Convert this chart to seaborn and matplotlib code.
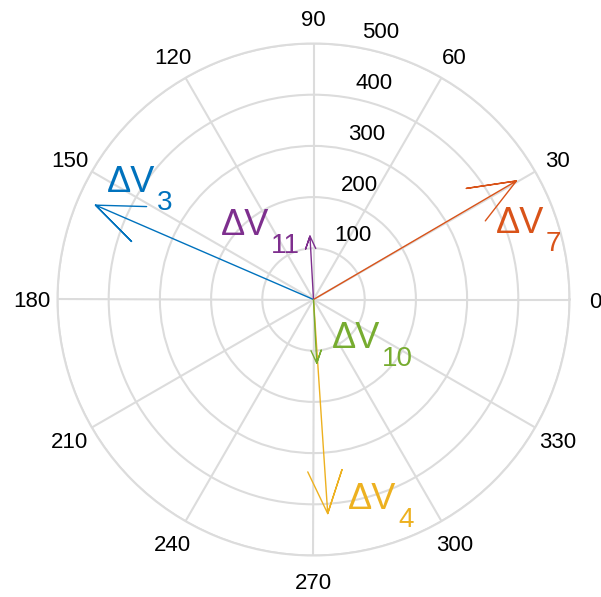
import numpy as np
import pandas as pd
import matplotlib
matplotlib.use("Agg")
import matplotlib.pyplot as plt
import seaborn as sns

# Velocity-change vectors (magnitude, direction in degrees)
names = ["3", "7", "4", "11", "10"]
magnitudes = [464, 459, 419, 124, 124.5]
angles_deg = [156.6, 30.3, 273.8, 93.2, 272.9]
colors = ["#0072BD", "#D95319", "#EDB120", "#7E2F8E", "#77AC30"]

# Where each ΔV label sits (direction in degrees, radius)
label_theta = [152.5, 20.1, 279.4, 145.2, 290.5]
label_r = [455, 379.5, 415.4, 220.7, 101.7]

ring_values = [100, 200, 300, 400, 500]
theta_ticks = list(range(0, 360, 30))
theta_labels = [str(t) for t in theta_ticks]

sns.set_style("white")
plt.rcParams["font.family"] = ["Liberation Sans", "DejaVu Sans"]
plt.rcParams["text.color"] = "black"
plt.rcParams["xtick.color"] = "black"
plt.rcParams["ytick.color"] = "black"

# compass arrow: shaft to the tip plus two barbs at 0.8 with +/-0.08 spread
shape = np.array([0, 1, 0.8 + 0.08j, 1, 0.8 - 0.08j])

rows = []
for name, m, a in zip(names, magnitudes, angles_deg):
    z = m * np.exp(1j * np.deg2rad(a))
    pts = shape * z
    th = np.angle(pts)
    th[0] = np.angle(z)
    th = np.unwrap(th)
    for i, (t, r) in enumerate(zip(th, np.abs(pts))):
        rows.append({"name": name, "order": i, "theta": t, "r": r})
df = pd.DataFrame(rows)

fig = plt.figure(figsize=(6.01, 5.97), dpi=100)
ax = fig.add_axes([57.5 / 601, 41.5 / 597, 512 / 601, 512 / 597], projection="polar")

grid_color = "#DCDCDC"
ax.set_axisbelow(True)

sns.lineplot(data=df, x="theta", y="r", hue="name", palette=dict(zip(names, colors)),
             sort=False, estimator=None, legend=False, linewidth=1.0, ax=ax)
ax.set_xlabel("")
ax.set_ylabel("")

ax.set_ylim(0, 500)
ax.set_rgrids(ring_values, labels=[""] * len(ring_values))
ax.set_thetagrids(theta_ticks, theta_labels, fontsize=16, color="black")
ax.tick_params(axis="x", pad=11.5, length=0)
for lbl in ax.get_xticklabels():
    lbl.set_verticalalignment("center_baseline")
ax.grid(True, color=grid_color, linewidth=1.5)
ax.spines["polar"].set_color(grid_color)
ax.spines["polar"].set_linewidth(1.5)

# radial labels along the 82 degree direction
for v in ring_values:
    ax.annotate(str(v), xy=(np.deg2rad(82), v), xytext=(23, 11.2),
                textcoords="offset points", ha="center", va="center_baseline",
                fontsize=16, color="black")

# ΔV labels with subscripts
for name, c, th, r in zip(names, colors, label_theta, label_r):
    t = np.deg2rad(th)
    ax.text(t, r, "ΔV", color=c, fontsize=26, ha="left", va="baseline")
    ax.annotate(name, xy=(t, r), xytext=(36, -13), textcoords="offset points",
                ha="left", va="baseline", fontsize=20, color=c)

fig.savefig("out.png", dpi=100)
